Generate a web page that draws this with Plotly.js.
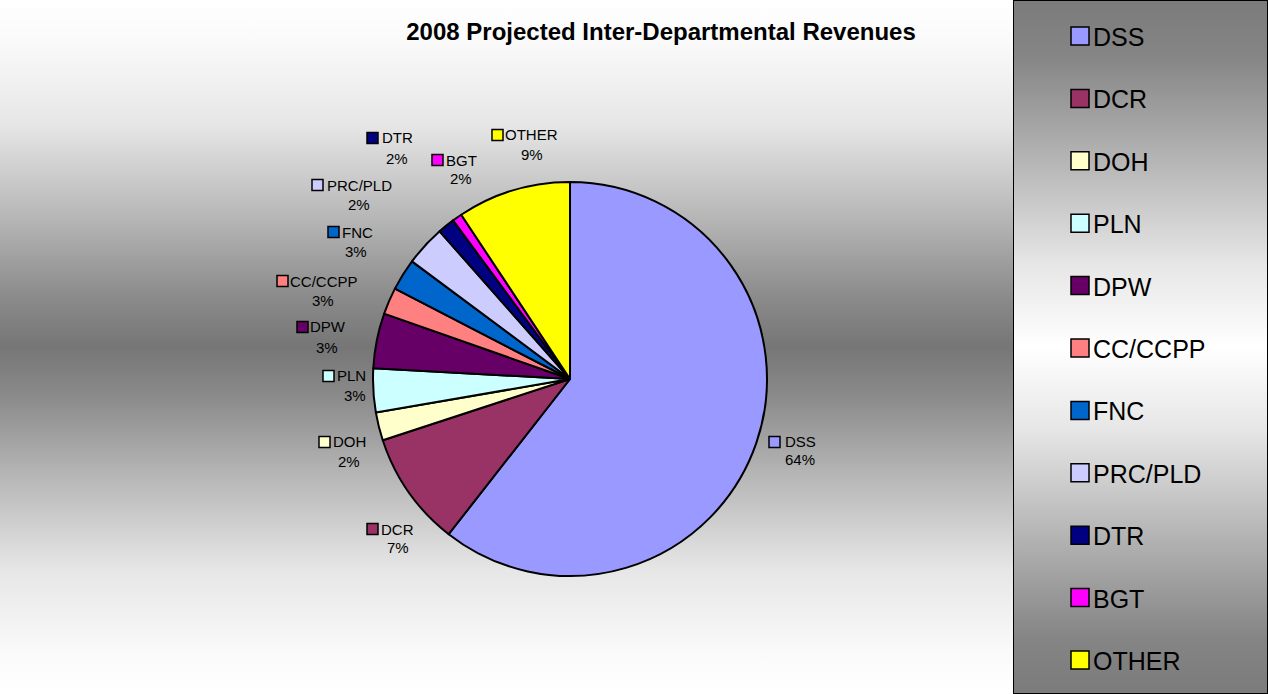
<!DOCTYPE html>
<html>
<head>
<meta charset="utf-8">
<script src="https://cdn.plot.ly/plotly-3.0.1.min.js"></script>
<style>
  html, body { margin: 0; padding: 0; background: #ffffff; }
  #wrap { position: relative; width: 1268px; height: 694px; overflow: hidden; }
  #bgMain { position: absolute; left: 0; top: 0; width: 1013px; height: 694px;
    background: linear-gradient(to bottom, #ffffff 0%, #fafafa 6%, #e6e6e6 18%, #b4b4b4 32%, #8a8a8a 43%, #767676 50%, #8a8a8a 57%, #b4b4b4 68%, #e6e6e6 82%, #fafafa 94%, #ffffff 100%); }
  #bgLegend { position: absolute; left: 1013px; top: 0; width: 253px; height: 692px;
    border: 1px solid #000000;
    background: linear-gradient(to bottom, #7b7b7b 0%, #858585 8%, #b8b8b8 24%, #e6e6e6 38%, #ffffff 50%, #e6e6e6 62%, #b8b8b8 76%, #858585 92%, #7b7b7b 100%); }
  #chart { position: absolute; left: 0; top: 0; width: 1268px; height: 694px; }
</style>
</head>
<body>
<div id="wrap">
  <div id="bgMain"></div>
  <div id="bgLegend"></div>
  <div id="chart"></div>
</div>
<script>
// ---- data ----
const titleText = "2008 Projected Inter-Departmental Revenues";
const departments = ["DSS", "DCR", "DOH", "PLN", "DPW", "CC/CCPP", "FNC", "PRC/PLD", "DTR", "BGT", "OTHER"];
const sliceValues = [60.5, 9.4, 2.3, 3.6, 4.5, 2.2, 2.6, 3.3, 1.4, 0.8, 9.3];
const percentLabels = [64, 7, 2, 3, 3, 3, 3, 2, 2, 2, 9];

// ---- styles ----
const sliceColors = ["#9999FF", "#993366", "#FFFFCC", "#CCFFFF", "#660066", "#FF8080",
                     "#0066CC", "#CCCCFF", "#000080", "#FF00FF", "#FFFF00"];

// ---- layout helpers (pixel positions of the figure) ----
const W = 1268, H = 694;
const px = v => v / W;
const py = v => 1 - v / H;
const pieCenter = { x: 570, y: 379 }, pieR = 197;

// data-label placement: [nameX, nameY, pctX, pctY, squareLeft, squareCenterY]
const labelPos = [
  [800, 441, 800, 459, 769, 442],
  [397, 529, 398, 547, 367, 529],
  [349, 442, 349, 461, 319, 442],
  [351, 376, 355, 395, 323, 376],
  [328, 327, 327, 347, 297, 327],
  [324, 281, 323, 300, 277, 281],
  [357, 232, 356, 251, 328, 232],
  [359, 185, 359, 205, 312, 185],
  [397, 138, 397, 158, 367, 138],
  [461, 160, 461, 178, 432, 160],
  [531, 135, 532, 154, 492, 135]
];
const labelFont = { family: "Liberation Sans, Arial, sans-serif", size: 15, color: "#000000" };
const legendFont = { family: "Liberation Sans, Arial, sans-serif", size: 25, color: "#000000" };

const annotations = [];
const shapes = [];

departments.forEach((name, i) => {
  const p = labelPos[i];
  annotations.push({ xref: "paper", yref: "paper", x: px(p[0]), y: py(p[1]), text: name,
    showarrow: false, xanchor: "center", yanchor: "middle", font: labelFont });
  annotations.push({ xref: "paper", yref: "paper", x: px(p[2]), y: py(p[3]), text: percentLabels[i] + "%",
    showarrow: false, xanchor: "center", yanchor: "middle", font: labelFont });
  shapes.push({ type: "rect", xref: "paper", yref: "paper",
    x0: px(p[4]), x1: px(p[4] + 11), y0: py(p[5] + 5.5), y1: py(p[5] - 5.5),
    fillcolor: sliceColors[i], line: { color: "#000000", width: 1.5 } });

  // legend entries
  const ly = 36 + 62.4 * i;
  shapes.push({ type: "rect", xref: "paper", yref: "paper",
    x0: px(1071), x1: px(1089), y0: py(ly + 9), y1: py(ly - 9),
    fillcolor: sliceColors[i], line: { color: "#000000", width: 1.5 } });
  annotations.push({ xref: "paper", yref: "paper", x: px(1091), y: py(ly + 1), text: name,
    showarrow: false, xanchor: "left", yanchor: "middle", font: legendFont });
});

const trace = {
  type: "pie",
  labels: departments,
  values: sliceValues,
  sort: false,
  direction: "clockwise",
  rotation: 0,
  textinfo: "none",
  hoverinfo: "label+percent",
  marker: { colors: sliceColors, line: { color: "#000000", width: 2 } },
  domain: {
    x: [px(pieCenter.x - pieR), px(pieCenter.x + pieR)],
    y: [py(pieCenter.y + pieR), py(pieCenter.y - pieR)]
  },
  showlegend: false
};

const layout = {
  width: W, height: H,
  margin: { l: 0, r: 0, t: 0, b: 0 },
  paper_bgcolor: "rgba(0,0,0,0)",
  plot_bgcolor: "rgba(0,0,0,0)",
  showlegend: false,
  title: {
    text: "<b>" + titleText + "</b>",
    x: px(661), y: py(32), xref: "paper", yref: "paper",
    xanchor: "center", yanchor: "middle",
    font: { family: "Liberation Sans, Arial, sans-serif", size: 24, color: "#000000" }
  },
  annotations: annotations,
  shapes: shapes
};

Plotly.newPlot("chart", [trace], layout, { displayModeBar: false, staticPlot: true });
</script>
</body>
</html>
